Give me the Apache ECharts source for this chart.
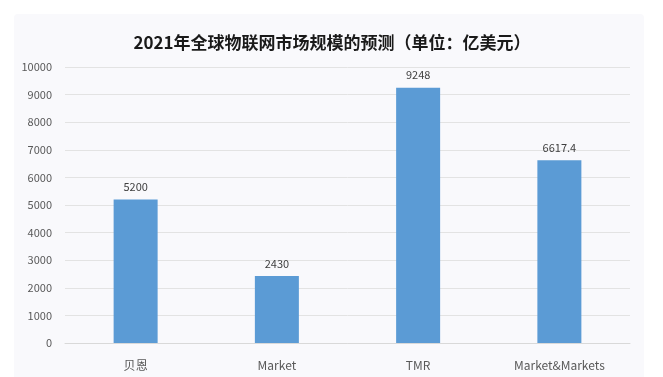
<!DOCTYPE html>
<html>
<head>
<meta charset="utf-8">
<script src="https://cdn.jsdelivr.net/npm/echarts@6/dist/echarts.min.js"></script>
<style>
  html, body { margin: 0; padding: 0; background: #fff; }
  #main { width: 663px; height: 377px; }
</style>
</head>
<body>
<div id="main"></div>
<script>
// 数据
const categories = ['贝恩', 'Market', 'TMR', 'Market&Markets'];
const values = [5200, 2430, 9248, 6617.4];

const chart = echarts.init(document.getElementById('main'));

const option = {
  backgroundColor: '#fff',
  textStyle: { fontFamily: '"Noto Sans CJK SC", "Noto Sans", sans-serif' },
  // 卡片背景
  graphic: [{
    type: 'rect',
    z: -10,
    shape: { x: 14, y: 14, width: 630, height: 370, r: 4 },
    style: { fill: '#f9f9fc' },
    silent: true
  }],
  title: {
    text: '2021年全球物联网市场规模的预测（单位：亿美元）',
    left: 327,
    textAlign: 'center',
    top: 29,
    textStyle: { fontSize: 17, fontWeight: 'bold', color: '#1a1a1a' }
  },
  grid: { left: 65, right: 33, top: 67, bottom: 34 },
  xAxis: {
    type: 'category',
    data: categories,
    axisTick: { show: false },
    axisLine: { lineStyle: { color: '#d9d9d9', width: 1 } },
    axisLabel: { color: '#595959', fontSize: 12, margin: 16 }
  },
  yAxis: {
    type: 'value',
    min: 0,
    max: 10000,
    interval: 1000,
    axisLine: { show: false },
    axisTick: { show: false },
    axisLabel: { color: '#595959', fontSize: 11, margin: 13, formatter: v => String(v) },
    splitLine: { lineStyle: { color: '#e3e3e3', width: 1 } }
  },
  series: [{
    type: 'bar',
    data: values,
    barWidth: 44,
    itemStyle: { color: '#5b9bd5' },
    label: {
      show: true,
      position: 'top',
      distance: 7,
      color: '#404040',
      fontSize: 11
    }
  }]
};

chart.setOption(option);
</script>
</body>
</html>
